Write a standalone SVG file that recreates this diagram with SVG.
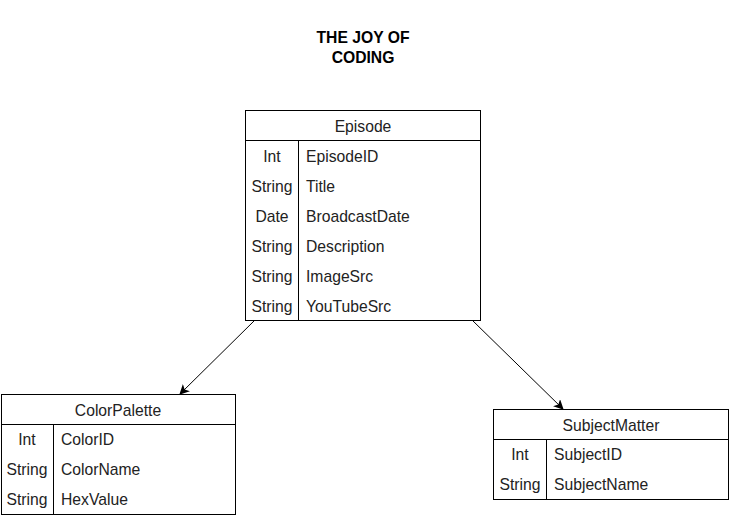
<svg xmlns="http://www.w3.org/2000/svg" width="729" height="515" viewBox="0 0 729 515">
<style>
.box{fill:#fff;stroke:#000;stroke-width:1}
.ln{stroke:#000;stroke-width:1;fill:none}
.t{font-family:"Liberation Sans",Arial,sans-serif;font-size:15.7px;fill:#222}
.c{text-anchor:middle}
.title{font-family:"Liberation Sans",Arial,sans-serif;font-size:15.7px;font-weight:bold;text-anchor:middle;fill:#000}
.edge{stroke:#000;stroke-width:1;fill:none;marker-end:url(#arr)}
</style>
<defs>
<marker id="arr" viewBox="0 0 10 10" refX="9" refY="5" markerWidth="10" markerHeight="10" markerUnits="userSpaceOnUse" orient="auto">
<path d="M0,0 L10,5 L0,10 L2.5,5 Z" fill="#000"/>
</marker>
</defs>
<g id="title">
<text class="title" x="363" y="43">THE JOY OF</text>
<text class="title" x="363" y="63">CODING</text>
</g>
<g id="connectors">
<line class="edge" x1="255" y1="320" x2="180" y2="394"/>
<line class="edge" x1="472" y1="320" x2="563" y2="409"/>
</g>
<g id="episode">
<rect class="box" x="245.5" y="110.5" width="235" height="210"/>
<line class="ln" x1="245.5" y1="140.5" x2="480.5" y2="140.5"/>
<line class="ln" x1="298.5" y1="140.5" x2="298.5" y2="320.5"/>
<text class="t c" x="363" y="131.5">Episode</text>
<text class="t c" x="272" y="161.5">Int</text><text class="t" x="306" y="161.5">EpisodeID</text>
<text class="t c" x="272" y="191.5">String</text><text class="t" x="306" y="191.5">Title</text>
<text class="t c" x="272" y="221.5">Date</text><text class="t" x="306" y="221.5">BroadcastDate</text>
<text class="t c" x="272" y="251.5">String</text><text class="t" x="306" y="251.5">Description</text>
<text class="t c" x="272" y="281.5">String</text><text class="t" x="306" y="281.5">ImageSrc</text>
<text class="t c" x="272" y="311.5">String</text><text class="t" x="306" y="311.5">YouTubeSrc</text>
</g>
<g id="colorpalette">
<rect class="box" x="1.5" y="394.5" width="234" height="120"/>
<line class="ln" x1="1.5" y1="424.5" x2="235.5" y2="424.5"/>
<line class="ln" x1="53.5" y1="424.5" x2="53.5" y2="514.5"/>
<text class="t c" x="118" y="415.5">ColorPalette</text>
<text class="t c" x="27" y="444.5">Int</text><text class="t" x="61" y="444.5">ColorID</text>
<text class="t c" x="27" y="474.5">String</text><text class="t" x="61" y="474.5">ColorName</text>
<text class="t c" x="27" y="504.5">String</text><text class="t" x="61" y="504.5">HexValue</text>
</g>
<g id="subjectmatter">
<rect class="box" x="493.5" y="409.5" width="235" height="90"/>
<line class="ln" x1="493.5" y1="439.5" x2="728.5" y2="439.5"/>
<line class="ln" x1="546.5" y1="439.5" x2="546.5" y2="499.5"/>
<text class="t c" x="611" y="430.5">SubjectMatter</text>
<text class="t c" x="520" y="459.5">Int</text><text class="t" x="554" y="459.5">SubjectID</text>
<text class="t c" x="520" y="489.5">String</text><text class="t" x="554" y="489.5">SubjectName</text>
</g>
</svg>
